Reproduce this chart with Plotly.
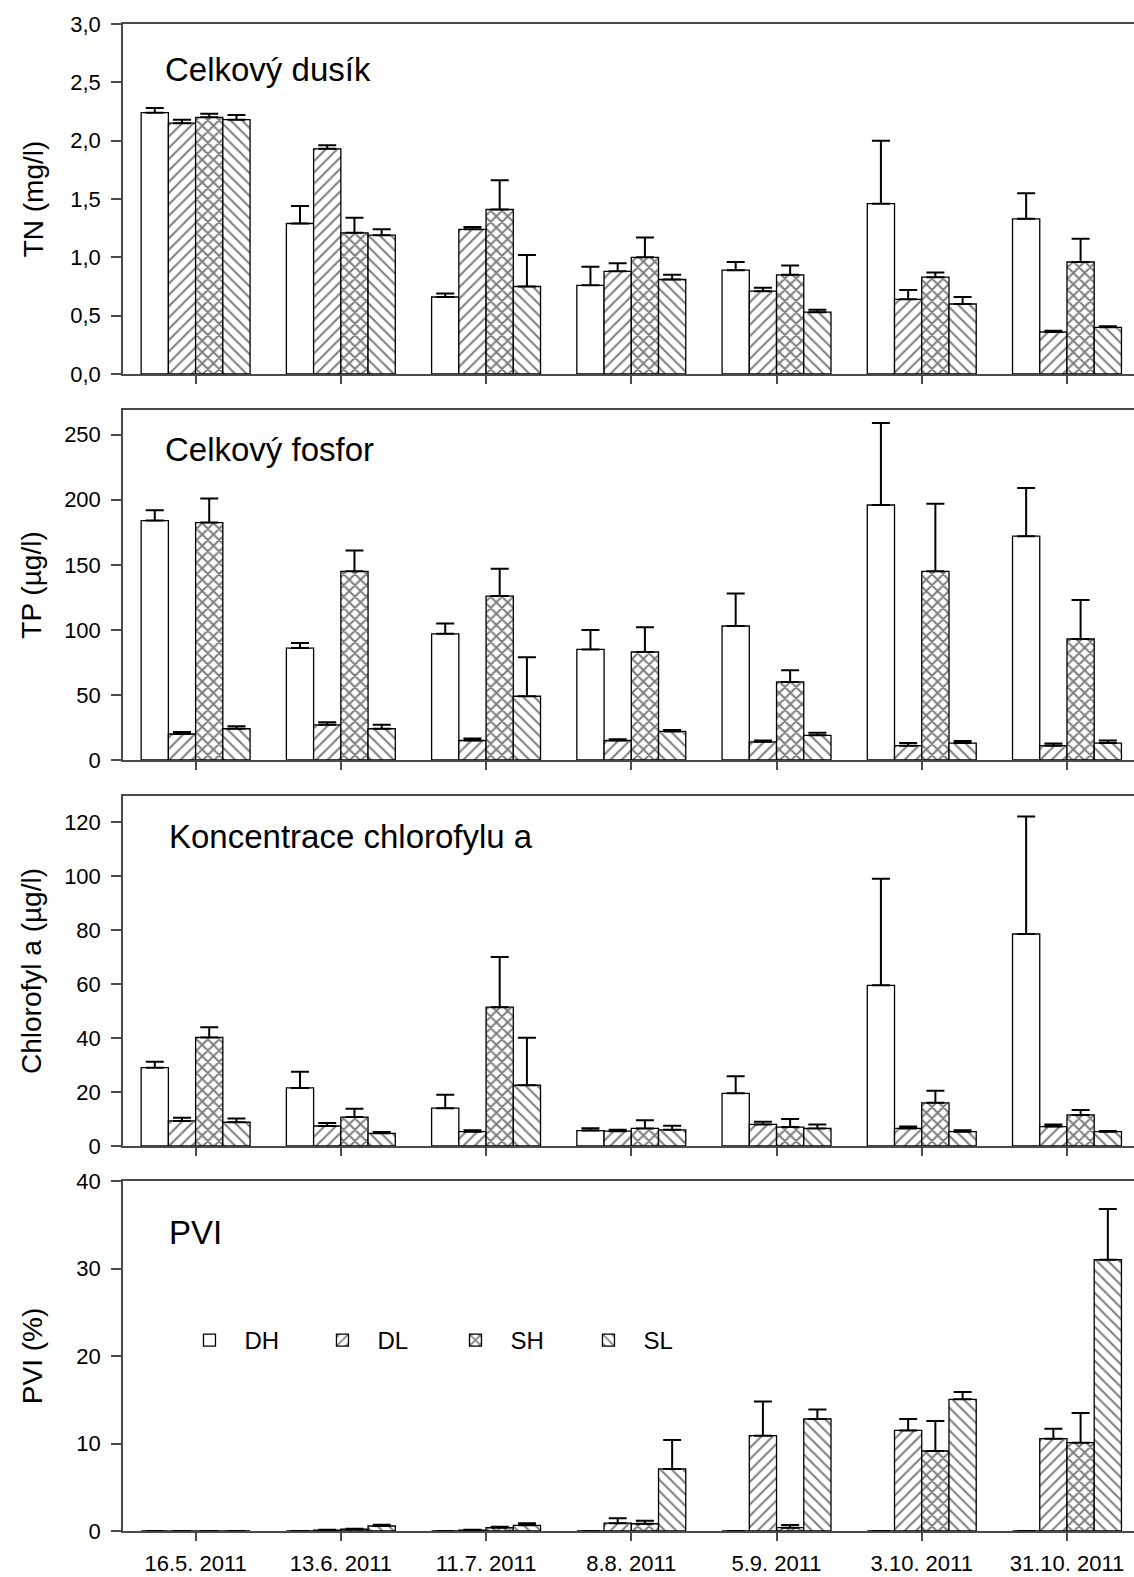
import plotly.graph_objects as go

# ---------------- data ----------------
dates = ["16.5. 2011", "13.6. 2011", "11.7. 2011", "8.8. 2011",
         "5.9. 2011", "3.10. 2011", "31.10. 2011"]
groups = ["DH", "DL", "SH", "SL"]

# Celkový dusík  TN (mg/l)  mean and +SE
tn_DH = [2.24, 1.29, 0.66, 0.76, 0.89, 1.46, 1.33]
tn_DH_err = [0.04, 0.15, 0.03, 0.16, 0.07, 0.54, 0.22]
tn_DL = [2.15, 1.93, 1.24, 0.88, 0.71, 0.64, 0.36]
tn_DL_err = [0.03, 0.03, 0.02, 0.07, 0.03, 0.08, 0.01]
tn_SH = [2.20, 1.21, 1.41, 1.00, 0.85, 0.83, 0.96]
tn_SH_err = [0.03, 0.13, 0.25, 0.17, 0.08, 0.04, 0.20]
tn_SL = [2.18, 1.19, 0.75, 0.81, 0.53, 0.60, 0.40]
tn_SL_err = [0.04, 0.05, 0.27, 0.04, 0.02, 0.06, 0.01]

# Celkový fosfor  TP (µg/l)
tp_DH = [184, 86, 97, 85, 103, 196, 172]
tp_DH_err = [8, 4, 8, 15, 25, 63, 37]
tp_DL = [20, 27, 15, 15, 14, 11, 11]
tp_DL_err = [1.5, 2, 1.5, 1, 1, 2, 1.6]
tp_SH = [182.5, 145, 126, 83, 60, 145, 93]
tp_SH_err = [18.5, 16, 21, 19, 9, 52, 30]
tp_SL = [24, 24, 49, 22, 19, 13, 13]
tp_SL_err = [2, 3, 30, 1, 2, 1.6, 2]

# Koncentrace chlorofylu a (µg/l)
chl_DH = [29, 21.5, 14, 5.7, 19.5, 59.5, 78.5]
chl_DH_err = [2.2, 6, 5, 0.9, 6.3, 39.5, 43.5]
chl_DL = [9.3, 7.4, 5.3, 5.5, 8, 6.5, 7.2]
chl_DL_err = [1.2, 1.1, 0.5, 0.5, 1, 0.7, 0.8]
chl_SH = [40.2, 10.7, 51.4, 6.5, 7, 16, 11.5]
chl_SH_err = [3.8, 3.1, 18.6, 3, 3, 4.5, 1.8]
chl_SL = [8.8, 4.7, 22.5, 6, 6.5, 5.3, 5.3]
chl_SL_err = [1.4, 0.5, 17.6, 1.5, 1.5, 0.5, 0.3]

# PVI (%)
pvi_DH = [0, 0, 0, 0, 0, 0, 0]
pvi_DH_err = [None, None, None, None, None, None, None]
pvi_DL = [0, 0.1, 0.1, 0.9, 10.9, 11.5, 10.55]
pvi_DL_err = [None, 0.05, 0.05, 0.55, 3.9, 1.3, 1.15]
pvi_SH = [0, 0.2, 0.38, 0.83, 0.38, 9.14, 10.1]
pvi_SH_err = [None, 0.07, 0.12, 0.35, 0.31, 3.43, 3.4]
pvi_SL = [0, 0.57, 0.65, 7.09, 12.8, 15.05, 31.0]
pvi_SL_err = [None, 0.15, 0.25, 3.3, 1.1, 0.85, 5.8]

panel_titles = ["Celkový dusík", "Celkový fosfor",
                "Koncentrace chlorofylu a", "PVI"]
y_titles = ["TN (mg/l)", "TP (µg/l)", "Chlorofyl a (µg/l)", "PVI (%)"]
y_ranges = [[0, 3.0], [0, 269], [0, 129.6], [0, 40]]
y_dticks = [0.5, 50, 20, 10]
y_formats = [".1f", "d", "d", "d"]

panels = [
    [(tn_DH, tn_DH_err), (tn_DL, tn_DL_err), (tn_SH, tn_SH_err), (tn_SL, tn_SL_err)],
    [(tp_DH, tp_DH_err), (tp_DL, tp_DL_err), (tp_SH, tp_SH_err), (tp_SL, tp_SL_err)],
    [(chl_DH, chl_DH_err), (chl_DL, chl_DL_err), (chl_SH, chl_SH_err), (chl_SL, chl_SL_err)],
    [(pvi_DH, pvi_DH_err), (pvi_DL, pvi_DL_err), (pvi_SH, pvi_SH_err), (pvi_SL, pvi_SL_err)],
]

# ---------------- styling ----------------
W, H = 1134, 1577
ML, MR, MT, MB = 122.5, 0, 24, 46
PW = W - ML - MR
PH = H - MT - MB
FONT = "Arial, Liberation Sans, sans-serif"
AXC = "#4a4a4a"

patterns = {
    "DH": dict(shape=""),
    "DL": dict(shape="/", fgcolor="black", bgcolor="white", size=8, solidity=0.26),
    "SH": dict(shape="x", fgcolor="black", bgcolor="white", size=8, solidity=0.45),
    "SL": dict(shape="\\", fgcolor="black", bgcolor="white", size=8, solidity=0.26),
}

# panel pixel extents (top, bottom)
panel_px = [(24, 374), (410, 760), (796, 1146), (1181, 1531)]


def py2paper(py):
    return (H - MB - py) / PH


def px2paper(px):
    return (px - ML) / PW


fig = go.Figure()

for i, series in enumerate(panels):
    ax = "" if i == 0 else str(i + 1)
    for g, (vals, errs) in zip(groups, series):
        fig.add_trace(go.Bar(
            x=dates, y=vals, name=g,
            xaxis="x" + ax, yaxis="y" + ax,
            marker=dict(color="white", line=dict(color="black", width=1.3),
                        pattern=patterns[g]),
            error_y=dict(type="data", array=errs,
                         arrayminus=[0] * len(errs),
                         symmetric=False, color="black", thickness=2, width=9),
            showlegend=(i == 3), legendgroup=g,
        ))

layout = dict(
    width=W, height=H,
    margin=dict(l=ML, r=MR, t=MT, b=MB, pad=0, autoexpand=False),
    paper_bgcolor="white", plot_bgcolor="white",
    barmode="group", bargap=0.25, bargroupgap=0,
    separators=", ",
    font=dict(family=FONT, color="black", size=22),
    legend=dict(orientation="h", x=px2paper(174), y=py2paper(1318),
                xanchor="left", yanchor="top",
                itemwidth=60, font=dict(size=24),
                entrywidth=58, entrywidthmode="pixels",
                bgcolor="rgba(0,0,0,0)", traceorder="normal"),
)

standoffs = [18, 14, 14, 26]
for i in range(4):
    ax = "" if i == 0 else str(i + 1)
    top, bot = panel_px[i]
    layout["xaxis" + ax] = dict(
        type="category", categoryorder="array", categoryarray=dates,
        range=[-0.5, -0.5 + PW / 145.3],
        domain=[0, 1], anchor="y" + ax,
        showline=True, linecolor=AXC, linewidth=1.5, mirror=True,
        ticks="outside", ticklen=8, tickcolor=AXC, tickwidth=1.5,
        showticklabels=(i == 3), tickfont=dict(size=22),
        ticklabelstandoff=4, automargin=False,
        showgrid=False, zeroline=False, fixedrange=True,
    )
    layout["yaxis" + ax] = dict(
        domain=[py2paper(bot), py2paper(top)], anchor="x" + ax,
        range=y_ranges[i], dtick=y_dticks[i], tick0=0, tickformat=y_formats[i],
        showline=True, linecolor=AXC, linewidth=1.5, mirror=False,
        ticks="outside", ticklen=10, tickcolor=AXC, tickwidth=1.5,
        tickfont=dict(size=22), ticklabelstandoff=6, automargin=False,
        title=dict(text=y_titles[i], font=dict(size=28), standoff=standoffs[i]),
        showgrid=False, zeroline=False, fixedrange=True,
    )

title_pos = [(163, 69), (163, 449), (167, 836), (167, 1232)]
annotations = []
for t, (px, py) in zip(panel_titles, title_pos):
    annotations.append(dict(
        text=t, xref="paper", yref="paper", x=px2paper(px), y=py2paper(py),
        xanchor="left", yanchor="middle", showarrow=False,
        font=dict(size=33, family=FONT, color="black"),
    ))
layout["annotations"] = annotations

fig.update_layout(**layout)
fig.write_html(
    "out.html",
    config={"displayModeBar": False},
    post_script="document.body.style.margin='0';document.body.style.overflow='hidden';",
)
